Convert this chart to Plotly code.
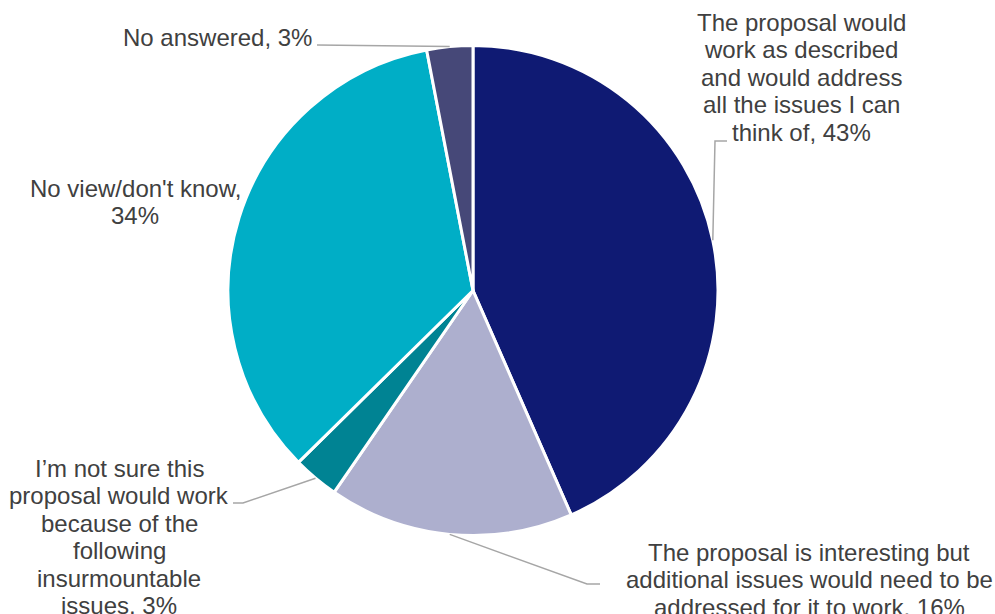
import math
import plotly.graph_objects as go

# Survey responses
labels = [
    "The proposal would work as described and would address all the issues I can think of",
    "The proposal is interesting but additional issues would need to be addressed for it to work",
    "I\u2019m not sure this proposal would work because of the following insurmountable issues",
    "No view/don't know",
    "No answered",
]
values = [43, 16, 3, 34, 3]
colors = ["#0F1A73", "#ADAFCE", "#008393", "#00AEC6", "#464878"]

# Label text broken into lines as displayed
label_lines = [
    ["The proposal would", "work as described", "and would address", "all the issues I can", "think of, 43%"],
    ["The proposal is interesting but", "additional issues would need to be", "addressed for it to work, 16%"],
    ["I\u2019m not sure this", "proposal would work", "because of the", "following", "insurmountable", "issues, 3%"],
    ["No view/don't know,", "34%"],
    ["No answered, 3%"],
]

W, H = 995, 614
CX, CY, R = 473, 290.5, 245
FONT = dict(family="Liberation Sans, Arial, sans-serif", size=24, color="#404040")
LINE_H = 27.5


def px(x):
    return x / W


def py(y):
    return 1 - y / H


fig = go.Figure(
    go.Pie(
        labels=labels,
        values=values,
        sort=False,
        direction="clockwise",
        rotation=0,
        textinfo="none",
        hoverinfo="label+percent",
        marker=dict(colors=colors, line=dict(color="white", width=3)),
        domain=dict(x=[px(CX - R), px(CX + R)], y=[py(CY + R), py(CY - R)]),
        showlegend=False,
    )
)

# Point on the pie edge at the middle of each slice
total = sum(values)
anchors = []
cum = 0
for v in values:
    mid = (cum + v / 2) / total * 2 * math.pi
    anchors.append((CX + R * math.sin(mid), CY - R * math.cos(mid)))
    cum += v

# Label block placement: (centre x, centre y of first line)
label_pos = [(801, 22), (809, 552), (119, 468), (135, 188), (217, 37)]

annotations = []
for lines, (lx, ly) in zip(label_lines, label_pos):
    for i, line in enumerate(lines):
        annotations.append(dict(
            x=px(lx), y=py(ly + i * LINE_H), xref="paper", yref="paper",
            text=line, showarrow=False, xanchor="center", yanchor="middle",
            font=FONT,
        ))

# Heading above the chart area
annotations.append(dict(
    x=0, y=py(-18), xref="paper", yref="paper", text="(per cent)",
    showarrow=False, xanchor="left", yanchor="middle",
    font=dict(family="Liberation Sans, Arial, sans-serif", size=27, color="#404040"),
))

# Leader lines: elbow points from each label to its slice
leader_elbows = {
    0: [(727, 141), (715, 141)],
    1: [(600, 584), (587, 584)],
    2: [(233, 503), (243, 503)],
    4: [(317, 45)],
}
shapes = []
for idx, pts in leader_elbows.items():
    path_pts = pts + [anchors[idx]]
    d = "M " + " L ".join(f"{px(x):.5f},{py(y):.5f}" for x, y in path_pts)
    shapes.append(dict(
        type="path", path=d, xref="paper", yref="paper",
        line=dict(color="#A6A6A6", width=1.5),
    ))

fig.update_layout(
    width=W, height=H,
    margin=dict(l=0, r=0, t=0, b=0),
    paper_bgcolor="white",
    plot_bgcolor="white",
    annotations=annotations,
    shapes=shapes,
)

fig.write_html("out.html")
